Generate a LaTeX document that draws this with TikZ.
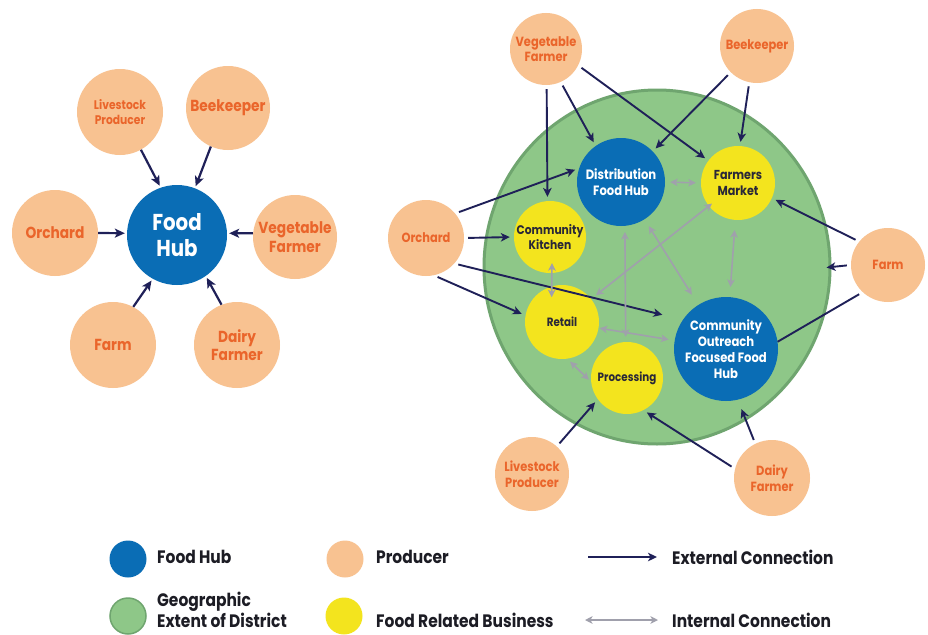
\documentclass[tikz,border=0pt]{standalone}
\usepackage{fontspec}
\setmainfont{Poppins}[FakeStretch=0.86]
\usetikzlibrary{arrows.meta,shapes.geometric}
\definecolor{peach}{HTML}{F8C291}
\definecolor{orangetxt}{HTML}{EA652B}
\definecolor{hubblue}{HTML}{0A6DB5}
\definecolor{bizyellow}{HTML}{F3E41E}
\definecolor{distgreen}{HTML}{8EC788}
\definecolor{distedge}{HTML}{6FA56F}
\definecolor{navy}{HTML}{1F2058}
\definecolor{intgray}{HTML}{A0A0AC}
\definecolor{darktxt}{HTML}{2A2838}
\definecolor{legtxt}{HTML}{1C1C24}
\newcommand\fsz[2]{\fontsize{#1pt}{#2pt}\selectfont}
\begin{document}
\begin{tikzpicture}[x=1pt,y=-1pt,
  dot/.style={circle,inner sep=0pt,align=center},
  prod/.style={dot,fill=peach,text=orangetxt},
  hub/.style={dot,fill=hubblue,text=white},
  biz/.style={dot,fill=bizyellow,text=darktxt},
  ext/.style={navy,line width=2.2pt,-{Stealth[length=10pt,width=9pt,inset=2.5pt]},shorten >=2pt},
  extR/.style={navy,line width=1.9pt,-{Stealth[length=9pt,width=8.5pt,inset=2.5pt]},shorten <=4pt,shorten >=4pt},
  extline/.style={navy,line width=1.9pt,shorten <=4pt},
  int/.style={intgray,line width=1.6pt,{Stealth[length=7.5pt,width=7.5pt,inset=2pt]}-{Stealth[length=7.5pt,width=7.5pt,inset=2pt]}},
  legtext/.style={anchor=west,text=legtxt,inner sep=0pt,align=left,font=\bfseries\fsz{18}{21}}
]
\useasboundingbox (0,0) rectangle (928,634);
\fill[white] (0,0) rectangle (928,634);

% ---------- left diagram ----------
\node[hub,minimum size=100,font=\bfseries\fsz{23}{26}] (hubL) at (177,235) {Food\\Hub};
\node[prod,minimum size=86,font=\bfseries\fsz{12.5}{15}] (liveL) at (120,112) {Livestock\\Producer};
\node[prod,minimum size=84,font=\bfseries\fsz{16}{18.5}] (beeL) at (228,108) {Beekeeper};
\node[prod,minimum size=86,font=\bfseries\fsz{16}{18.5}] (orchL) at (55,233) {Orchard};
\node[prod,minimum size=84,font=\bfseries\fsz{16}{18.5}] (vegL) at (295,237) {Vegetable\\Farmer};
\node[prod,minimum size=86,font=\bfseries\fsz{16}{18.5}] (farmL) at (113,345) {Farm};
\node[prod,minimum size=86,font=\bfseries\fsz{16}{18.5}] (dairyL) at (237,345) {Dairy\\Farmer};

\draw[ext] (liveL.-61) -- (hubL.109);
\draw[ext] (beeL.-114) -- (hubL.69);
\draw[ext] (orchL.0) -- (hubL.178);
\draw[ext] (vegL.175) -- (hubL.2);
\draw[ext] (farmL.62) -- (hubL.-119);
\draw[ext] (dairyL.111) -- (hubL.-55);

% ---------- right diagram ----------
\node[ellipse,fill=distgreen,draw=distedge,line width=3pt,minimum width=346,minimum height=354,inner sep=0pt] (district) at (657,267) {};

\node[prod,minimum size=72,font=\bfseries\fsz{13.3}{15.5}] (vegR) at (546,49) {Vegetable\\Farmer};
\node[prod,minimum size=74,font=\bfseries\fsz{13.3}{15.5}] (beeR) at (757,46) {Beekeeper};
\node[prod,minimum size=76,font=\bfseries\fsz{13.3}{15.5}] (orchR) at (426,238) {Orchard};
\node[prod,minimum size=74,font=\bfseries\fsz{13.3}{15.5}] (farmR) at (888,265) {Farm};
\node[prod,minimum size=74,font=\bfseries\fsz{13.3}{15.5}] (liveR) at (532,474) {Livestock\\Producer};
\node[prod,minimum size=76,font=\bfseries\fsz{13.3}{15.5}] (dairyR) at (772,478) {Dairy\\Farmer};

\draw[extline] (farmR.-133) -- (726+51.5,349-7.2) coordinate (outrE);

\node[hub,minimum size=88,font=\bfseries\fsz{13.5}{16}] (dist) at (621,182) {Distribution\\Food Hub};
\node[biz,minimum size=74,font=\bfseries\fsz{13}{15.5}] (fm) at (738,183) {Farmers\\Market};
\node[biz,minimum size=72,font=\bfseries\fsz{12.5}{15}] (kit) at (550,237) {Community\\Kitchen};
\node[biz,minimum size=74,font=\bfseries\fsz{12}{14.5}] (retail) at (562,322) {Retail};
\node[biz,minimum size=72,font=\bfseries\fsz{12}{14.5}] (proc) at (627,378) {Processing};
\node[hub,minimum size=104,font=\bfseries\fsz{13.5}{16}] (outr) at (726,349) {Community\\Outreach\\Focused Food\\Hub};

\draw[extR] (vegR.-89) -- (kit.94);
\draw[extR] (vegR.-66) -- (dist.125);
\draw[extR] (vegR.-27) -- (fm.143);
\draw[extR] (beeR.-135) -- (dist.44);
\draw[extR] (beeR.-102) -- (fm.87);
\draw[extR] (orchR.40) -- (dist.162);
\draw[extR] (orchR.0) -- (kit.180);
\draw[extR,shorten >=21pt] (orchR.-42) -- (outr.146);
\draw[extR] (orchR.-78) -- (retail.170);
\draw[extR] (farmR.141) -- (fm.-24);
\draw[extR,shorten >=-5pt] (farmR.180) -- (district.east);
\draw[extR] (liveR.48) -- (proc.216);
\draw[extR] (dairyR.166) -- (proc.-63);
\draw[extR,shorten >=10pt] (dairyR.116) -- (outr.-77);

\draw[int,shorten <=5pt,shorten >=5pt] (dist.east) -- (fm.west);
\draw[int,shorten <=-10pt,shorten >=-11pt] (kit.-87) -- (retail.106);
\draw[int,shorten <=6pt,shorten >=-4pt] (retail) -- (fm);
\draw[int,shorten <=6pt,shorten >=5pt] (dist.-85) -- (proc.92);
\draw[int,shorten <=8pt,shorten >=12pt] (dist) -- (outr);
\draw[int,shorten <=10pt,shorten >=10pt] (fm) -- (outr);
\draw[int,shorten <=1pt,shorten >=6pt] (retail) -- (outr);
\draw[int,shorten <=4pt,shorten >=3pt] (retail.-82) -- (proc.186);

% ---------- legend ----------
\node[dot,fill=hubblue,minimum size=37] (lgHub) at (128,559) {};
\node[legtext] (lgHubT) at (157,557) {Food Hub};
\node[dot,fill=distgreen,draw=distedge,line width=1.5pt,minimum size=36] (lgDist) at (128,616) {};
\node[legtext] (lgDistT) at (157,610) {Geographic\\Extent of District};
\node[dot,fill=peach,minimum size=37] (lgProd) at (345,559) {};
\node[legtext] (lgProdT) at (376,557) {Producer};
\node[dot,fill=bizyellow,minimum size=37] (lgBiz) at (344,616) {};
\node[legtext] (lgBizT) at (376,620) {Food Related Business};
\coordinate (e1) at (588,557);
\coordinate (e2) at (657,557);
\draw[navy,line width=1.8pt,-{Stealth[length=9pt,width=8.5pt,inset=2.5pt]}] (e1) -- (e2);
\node[legtext] (lgExtT) at (672,557) {External Connection};
\coordinate (i1) at (585,620);
\coordinate (i2) at (658,620);
\draw[int] (i1) -- (i2);
\node[legtext] (lgIntT) at (672,620) {Internal Connection};
\end{tikzpicture}
\end{document}
